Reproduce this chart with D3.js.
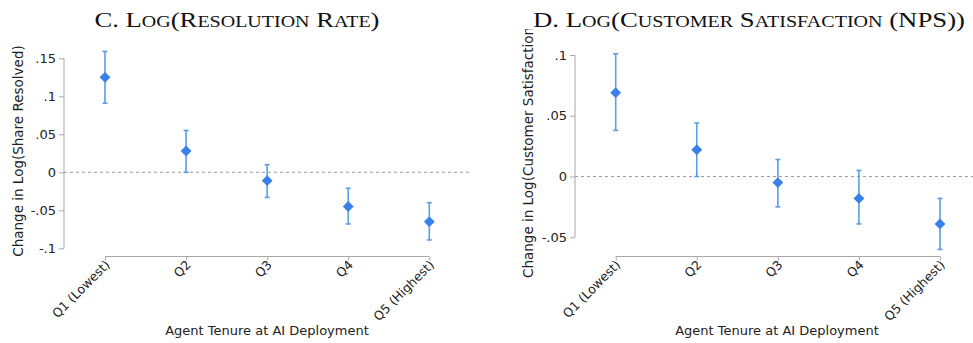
<!DOCTYPE html>
<html lang="en">
<head>
<meta charset="utf-8">
<title>Log(Resolution Rate) and Log(Customer Satisfaction)</title>
<script src="https://d3js.org/d3.v7.min.js"></script>
<style>
    body { margin: 0; background: white; }
    svg { display: block; }
    .title { font-family: "Liberation Serif", "DejaVu Serif", serif; fill: #111; }
    .lab { font-family: "DejaVu Sans", Verdana, sans-serif; fill: #222; }
</style>
</head>
<body>
<div id="chart"></div>
<script>

// quartiles of agent tenure
var categories = ["Q1 (Lowest)", "Q2", "Q3", "Q4", "Q5 (Highest)"]

// panel C: log resolution rate
var resEst   = [0.125, 0.028, -0.011, -0.045, -0.065]
var resLow   = [0.091, 0.000, -0.033, -0.068, -0.089]
var resHigh  = [0.159, 0.055, 0.010, -0.021, -0.040]
var resTicks = [-0.1, -0.05, 0, 0.05, 0.1, 0.15]
var resTickLabels = ["-.1", "-.05", "0", ".05", ".1", ".15"]

// panel D: log customer satisfaction
var npsEst   = [0.069, 0.022, -0.005, -0.018, -0.039]
var npsLow   = [0.038, 0.000, -0.025, -0.039, -0.060]
var npsHigh  = [0.101, 0.044, 0.014, 0.005, -0.018]
var npsTicks = [-0.05, 0, 0.05, 0.1]
var npsTickLabels = ["-.05", "0", ".05", ".1"]

var width = 973, height = 343
var blue = "#3a80ea", barBlue = "#5c9de8", axisGray = "#a8a8a8"

var svg = d3.select("#chart").append("svg")
    .attr("width", width)
    .attr("height", height)

svg.append("defs").append("clipPath").attr("id", "clipR")
  .append("rect").attr("x", 480).attr("y", 29).attr("width", 80).attr("height", 300)

var panels = [
    {title: "C. Log(Resolution Rate)", titleX: 237, titleW: 285,
     ylab: "Change in Log(Share Resolved)", ylabX: 23, ylabY: 151, anchor: "middle", clip: null,
     est: resEst, low: resLow, high: resHigh, ticks: resTicks, tickLabels: resTickLabels,
     yDomain: [-0.1, 0.15], yRange: [248.3, 58.3], axisX: 64,
     xRange: [105, 429.3], zeroEnd: 470, xTitleX: 267},
    {title: "D. Log(Customer Satisfaction (NPS))", titleX: 749, titleW: 432,
     ylab: "Change in Log(Customer Satisfaction (NPS))", ylabX: 533, ylabY: 278, anchor: "start", clip: "url(#clipR)",
     est: npsEst, low: npsLow, high: npsHigh, ticks: npsTicks, tickLabels: npsTickLabels,
     yDomain: [-0.05, 0.1], yRange: [237.3, 55], axisX: 575,
     xRange: [615.7, 940], zeroEnd: 973, xTitleX: 777}
]

// split a title into runs for hand-made small caps
function smallCapRuns(s) {
    var runs = []
    s.split("").forEach(function(ch) {
        var small = ch >= "a" && ch <= "z"
        var last = runs[runs.length - 1]
        if (last && last.small === small) last.text += ch
        else runs.push({small: small, text: ch})
    })
    return runs
}

panels.forEach(function(p) {
    var g = svg.append("g")

    var y = d3.scaleLinear().domain(p.yDomain).range(p.yRange)
    var x = d3.scalePoint().domain(categories).range(p.xRange)
    var xAxisY = 256.5

    // title
    var t = g.append("text").attr("class", "title")
        .attr("x", p.titleX).attr("y", 27)
        .attr("text-anchor", "middle")
        .attr("font-size", 22)
        .attr("textLength", p.titleW).attr("lengthAdjust", "spacingAndGlyphs")
    t.selectAll("tspan").data(smallCapRuns(p.title)).enter().append("tspan")
        .attr("font-size", d => d.small ? 16.5 : 22)
        .text(d => d.small ? d.text.toUpperCase() : d.text)

    // zero reference line
    g.append("line")
        .attr("x1", p.axisX).attr("x2", p.zeroEnd)
        .attr("y1", y(0)).attr("y2", y(0))
        .attr("stroke", "#9a9a9a").attr("stroke-width", 1)
        .attr("stroke-dasharray", "3,3")

    // y axis
    var yAxis = d3.axisLeft(y)
        .tickValues(p.ticks)
        .tickSize(5)
        .tickPadding(3)
        .tickFormat(function(d, i) { return p.tickLabels[i] })
    var ya = g.append("g").attr("transform", "translate(" + p.axisX + ",0)").call(yAxis)
    ya.select(".domain").attr("stroke", axisGray).attr("d", "M0," + y(p.yDomain[1]) + "V" + y(p.yDomain[0]))
    ya.selectAll(".tick line").attr("stroke", axisGray)
    ya.selectAll(".tick text").attr("class", "lab").attr("font-size", 13)
        .attr("font-family", "DejaVu Sans").attr("fill", "#222")

    // x axis
    var xAxis = d3.axisBottom(x).tickSize(4).tickPadding(4)
    var xa = g.append("g").attr("transform", "translate(0," + xAxisY + ")").call(xAxis)
    xa.select(".domain").attr("stroke", axisGray).attr("d", "M" + p.xRange[0] + ",0H" + p.xRange[1])
    xa.selectAll(".tick line").attr("stroke", axisGray)
    xa.selectAll(".tick text")
        .attr("font-size", 12.5).attr("font-family", "DejaVu Sans").attr("fill", "#222")
        .attr("text-anchor", "end")
        .attr("dy", "0.35em")
        .attr("transform", "translate(2,6) rotate(-45)")
        .attr("y", 0).attr("x", 0)

    // axis titles
    g.append("text").attr("class", "lab")
        .attr("font-size", 13)
        .attr("text-anchor", "middle")
        .attr("x", p.xTitleX).attr("y", 335)
        .text("Agent Tenure at AI Deployment")

    var yl = g.append("g").attr("clip-path", p.clip)
    yl.append("text").attr("class", "lab")
        .attr("font-size", 13.5)
        .attr("text-anchor", p.anchor)
        .attr("transform", "translate(" + p.ylabX + "," + p.ylabY + ") rotate(-90)")
        .text(p.ylab)

    // confidence intervals
    var rows = categories.map(function(c, i) {
        return {cat: c, est: p.est[i], low: p.low[i], high: p.high[i]}
    })
    var bars = g.append("g").selectAll("g").data(rows).enter().append("g")
        .attr("stroke", barBlue).attr("stroke-width", 1.6)
    bars.append("line")
        .attr("x1", d => x(d.cat)).attr("x2", d => x(d.cat))
        .attr("y1", d => y(d.low)).attr("y2", d => y(d.high))
    bars.append("line")
        .attr("x1", d => x(d.cat) - 2.5).attr("x2", d => x(d.cat) + 2.5)
        .attr("y1", d => y(d.low)).attr("y2", d => y(d.low))
    bars.append("line")
        .attr("x1", d => x(d.cat) - 2.5).attr("x2", d => x(d.cat) + 2.5)
        .attr("y1", d => y(d.high)).attr("y2", d => y(d.high))

    // point estimates
    g.append("g").selectAll("path").data(rows).enter().append("path")
        .attr("d", d3.symbol().type(d3.symbolDiamond2).size(75))
        .attr("transform", d => "translate(" + x(d.cat) + "," + y(d.est) + ")")
        .attr("fill", blue)
})

</script>
</body>
</html>
